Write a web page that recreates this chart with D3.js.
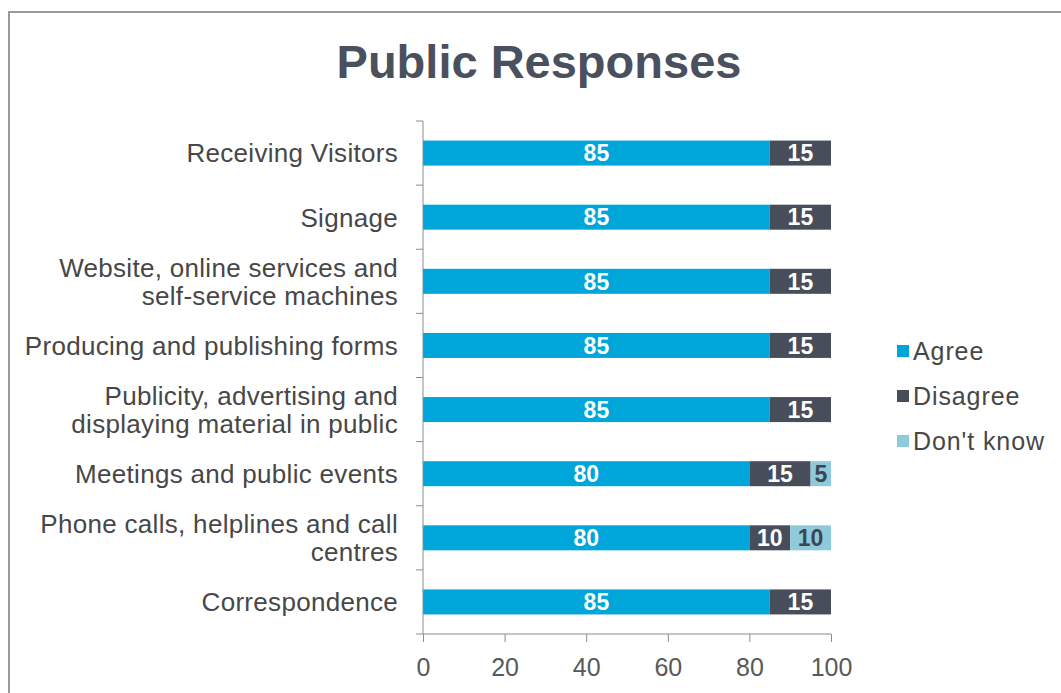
<!DOCTYPE html>
<html>
<head>
<meta charset="utf-8">
<script src="https://cdn.jsdelivr.net/npm/d3@7"></script>
<style>
  body { margin: 0; background: #fff; }
  svg { display: block; font-family: "Liberation Sans", Arial, sans-serif; }
</style>
</head>
<body>
<script>
// categories, top to bottom (each entry = lines of the label)
const categories = [
  ["Receiving Visitors"],
  ["Signage"],
  ["Website, online services and", "self-service machines"],
  ["Producing and publishing forms"],
  ["Publicity, advertising and", "displaying material in public"],
  ["Meetings and public events"],
  ["Phone calls, helplines and call", "centres"],
  ["Correspondence"]
];
const seriesNames = ["Agree", "Disagree", "Don't know"];
const agree    = [85, 85, 85, 85, 85, 80, 80, 85];
const disagree = [15, 15, 15, 15, 15, 15, 10, 15];
const dontKnow = [0, 0, 0, 0, 0, 5, 10, 0];
const xTicks = [0, 20, 40, 60, 80, 100];

const colors = ["#00a6d9", "#474d59", "#8fcadb"];
const labelColors = ["#ffffff", "#ffffff", "#3d4654"];

const width = 1061, height = 693;
const svg = d3.select("body").append("svg")
    .attr("width", width)
    .attr("height", height);

// outer frame
svg.append("rect")
    .attr("x", 9).attr("y", 12)
    .attr("width", width + 10).attr("height", height + 10)
    .attr("fill", "none")
    .attr("stroke", "#9a9a9a")
    .attr("stroke-width", 2);

svg.append("text")
    .attr("x", 539).attr("y", 78)
    .attr("text-anchor", "middle")
    .style("font-size", "47px")
    .style("font-weight", "bold")
    .style("fill", "#4a505e")
    .text("Public Responses");

const keys = categories.map(function(c) { return c.join(" "); });
const rows = keys.map(function(k, i) {
  return {key: k, lines: categories[i], vals: [agree[i], disagree[i], dontKnow[i]]};
});

const x = d3.scaleLinear().domain([0, 100]).range([423, 831]);
const y = d3.scaleBand().domain(keys).range([121, 634])
    .paddingInner(0.61).paddingOuter(0.305);

// stacked bars
const stack = d3.stack().keys([0, 1, 2]).value(function(d, k) { return d.vals[k]; });
const layers = stack(rows);

const g = svg.append("g");
layers.forEach(function(layer, li) {
  layer.forEach(function(seg) {
    const v = seg[1] - seg[0];
    if (v <= 0) return;
    g.append("rect")
        .attr("x", x(seg[0]))
        .attr("y", y(seg.data.key))
        .attr("width", x(seg[1]) - x(seg[0]))
        .attr("height", y.bandwidth())
        .attr("fill", colors[li]);
    g.append("text")
        .attr("x", (x(seg[0]) + x(seg[1])) / 2)
        .attr("y", y(seg.data.key) + y.bandwidth() / 2)
        .attr("dy", "0.36em")
        .attr("text-anchor", "middle")
        .style("font-size", "23px")
        .style("font-weight", "bold")
        .style("fill", labelColors[li])
        .text(v);
  });
});

// axes
const axisColor = "#8c8c8c";
const xAxis = svg.append("g")
    .attr("transform", "translate(0," + 634 + ")")
    .call(d3.axisBottom(x).tickValues(xTicks).tickSize(8).tickSizeOuter(0));
xAxis.select(".domain").remove();
xAxis.selectAll("line").attr("stroke", axisColor);
xAxis.selectAll("text")
    .attr("dy", "0")
    .attr("y", 42)
    .style("font-size", "25px")
    .style("fill", "#595959")
    .style("font-family", "Liberation Sans, Arial, sans-serif");
svg.append("line")
    .attr("x1", x(0) - 7).attr("x2", x(100))
    .attr("y1", 634).attr("y2", 634)
    .attr("stroke", axisColor);

svg.append("line")
    .attr("x1", x(0)).attr("x2", x(0))
    .attr("y1", y.range()[0]).attr("y2", y.range()[1])
    .attr("stroke", axisColor);

// category boundary ticks
const step = y.step();
keys.forEach(function(k) {
  const top = y(k) - (step - y.bandwidth()) / 2;
  svg.append("line")
      .attr("x1", x(0) - 7).attr("x2", x(0))
      .attr("y1", top).attr("y2", top)
      .attr("stroke", axisColor);
});

// category labels
rows.forEach(function(r) {
  const cy = y(r.key) + y.bandwidth() / 2;
  const lh = 28;
  const t = svg.append("text")
      .attr("text-anchor", "end")
      .style("font-size", "26px")
      .style("letter-spacing", "0.3px")
      .style("fill", "#474747");
  r.lines.forEach(function(line, i) {
    t.append("tspan")
        .attr("x", 398)
        .attr("y", cy - (r.lines.length - 1) * lh / 2 + i * lh)
        .attr("dy", "0.36em")
        .text(line);
  });
});

// legend
const legend = svg.append("g");
seriesNames.forEach(function(name, i) {
  const ly = 351 + i * 45;
  legend.append("rect")
      .attr("x", 897).attr("y", ly - 6)
      .attr("width", 12).attr("height", 12)
      .attr("fill", colors[i]);
  legend.append("text")
      .attr("x", 913).attr("y", ly)
      .attr("dy", "0.36em")
      .style("font-size", "25px")
      .style("letter-spacing", "0.9px")
      .style("fill", "#474747")
      .text(name);
});
</script>
</body>
</html>
